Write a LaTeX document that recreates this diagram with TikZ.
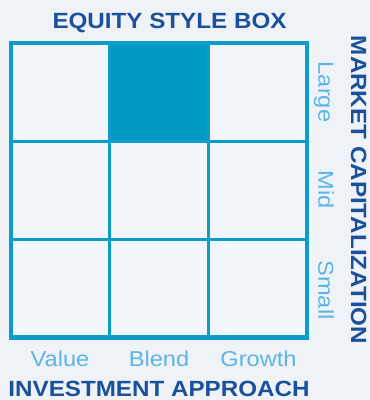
\documentclass[tikz,border=0pt]{standalone}
\usepackage{fontspec}
\setmainfont{Liberation Sans}
\definecolor{bgc}{RGB}{239,242,247}
\definecolor{cellc}{RGB}{242,245,249}
\definecolor{gridc}{RGB}{12,156,201}
\definecolor{fillc}{RGB}{0,153,198}
\definecolor{darkc}{RGB}{27,80,155}
\definecolor{lightc}{RGB}{92,181,230}
\newcommand\wid[1]{\scalebox{1.1}[1]{#1}}
\begin{document}
\begin{tikzpicture}[x=1pt,y=-1pt,
  cell/.style={draw=gridc,line width=3pt,fill=cellc,inner sep=0pt,minimum width=98.33pt,minimum height=97.8pt},
  hot/.style={cell,fill=fillc},
  heading/.style={text=darkc,font=\fontsize{22}{22}\selectfont\bfseries,inner sep=0pt,anchor=base},
  axislabel/.style={text=lightc,font=\fontsize{21.5}{21.5}\selectfont,inner sep=0pt,anchor=base}]
\useasboundingbox (0,0) rectangle (370,400);
\fill[bgc] (0,0) rectangle (370,400);
% grid cells
\foreach \r/\yy in {1/92.4,2/190.2,3/288.0}{
  \foreach \c/\xx in {1/60.67,2/159.0,3/257.33}{
    \node[cell] (c\r\c) at (\xx,\yy) {};
  }
}
\node[hot] (c12) at (159.0,92.4) {};
\draw[gridc,line width=3pt] (c11.north west) rectangle (c33.south east);
% titles
\node[heading] (title) at (169.5,28.3) {\wid{EQUITY STYLE BOX}};
\node[heading] (xtitle) at (159,396.5) {\wid{INVESTMENT APPROACH}};
\node[heading,rotate=-90] (ytitle) at (351,190) {\wid{MARKET CAPITALIZATION}};
% axis labels
\node[axislabel] (value) at (60,366) {\wid{Value}};
\node[axislabel] (blend) at (159,366) {\wid{Blend}};
\node[axislabel] (growth) at (258.5,366) {\wid{Growth}};
\node[axislabel,rotate=-90] (large) at (318.3,92) {\wid{Large}};
\node[axislabel,rotate=-90] (mid) at (318.3,190) {\wid{Mid}};
\node[axislabel,rotate=-90] (small) at (318.3,290) {\wid{Small}};
\end{tikzpicture}
\end{document}
